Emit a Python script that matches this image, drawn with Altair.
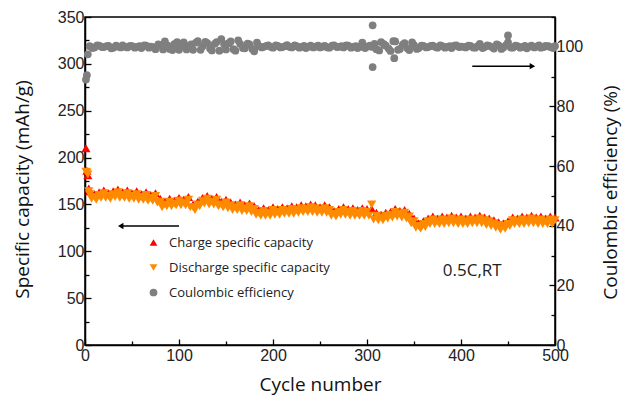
import altair as alt
import pandas as pd

S_CH = "Charge specific capacity"
S_DIS = "Discharge specific capacity"
S_CE = "Coulombic efficiency"

cap_cycles = [1, 2, 3, 4] + list(range(5, 501, 5))
charge = [210, 186, 181, 167] + [
    164, 161, 163, 165, 162, 164, 166, 163, 165, 162,
    164, 161, 163, 160, 162, 156, 153, 156, 154, 157,
    155, 158, 150, 153, 157, 159, 156, 158, 153, 155,
    152, 150, 152, 149, 151, 148, 144, 146, 144, 147,
    145, 147, 146, 148, 147, 149, 148, 150, 149, 147,
    149, 147, 143, 145, 147, 145, 146, 144, 146, 145,
    145, 141, 139, 141, 142, 145, 143, 144, 140, 135,
    130, 132, 135, 137, 135, 137, 136, 138, 136, 137,
    135, 137, 136, 138, 136, 135, 133, 131, 130, 132,
    136, 135, 137, 136, 138, 136, 137, 135, 137, 136]
discharge = [185, 184, 182, 164] + [
    161, 158, 160, 162, 159, 161, 163, 160, 162, 159,
    161, 158, 160, 157, 159, 153, 150, 153, 151, 154,
    152, 155, 147, 150, 154, 156, 153, 155, 150, 152,
    149, 147, 149, 146, 148, 145, 141, 143, 141, 144,
    142, 144, 143, 145, 144, 146, 145, 147, 146, 144,
    146, 144, 140, 142, 144, 142, 143, 141, 143, 142,
    150, 138, 136, 138, 139, 142, 140, 141, 137, 132,
    127, 129, 132, 134, 132, 134, 133, 135, 133, 134,
    132, 134, 133, 135, 133, 132, 130, 128, 127, 129,
    133, 132, 134, 133, 135, 133, 134, 132, 134, 133]

# lower side of the scattered discharge band (cycles 7, 12, ..., 497)
dis_lo_cycles = list(range(7, 498, 5))
discharge_lo = [
    156, 155, 157, 157, 156, 158, 157, 157, 156, 156,
    155, 155, 154, 154, 152, 147, 148, 148, 149, 149,
    149, 147, 144, 148, 151, 150, 150, 148, 147, 146,
    144, 144, 143, 143, 142, 139, 138, 138, 138, 139,
    139, 140, 140, 140, 141, 142, 142, 142, 141, 141,
    141, 138, 137, 139, 139, 138, 138, 138, 138, 138,
    134, 133, 133, 135, 136, 137, 136, 135, 130, 125,
    124, 126, 129, 129, 129, 129, 130, 130, 129, 129,
    129, 130, 130, 130, 128, 127, 125, 123, 124, 127,
    129, 129, 129, 130, 130, 129, 129, 129, 129]

ce_cycles = [1, 2, 3] + list(range(5, 501, 5)) + [306, 306, 329, 450]
ce = [89.0, 90.5, 97.5] + [
    100.2, 99.8, 100.4, 99.9, 100.3, 99.7, 100.1, 100.5, 99.8, 100.2,
    100.0, 99.6, 100.4, 100.1, 99.2, 100.6, 101.8, 99.3, 100.9, 99.0,
    101.5, 100.3, 99.0, 101.9, 100.2, 101.2, 98.8, 101.6, 102.6, 99.1,
    101.8, 98.7, 101.0, 99.5, 100.8, 98.5, 100.2, 100.0, 100.5, 99.7,
    100.3, 99.9, 100.6, 99.8, 100.2, 100.0, 99.6, 100.4, 100.1, 99.8,
    100.3, 99.7, 100.5, 100.0, 99.8, 100.4, 100.0, 99.6, 101.4, 100.1,
    100.0, 99.2, 101.6, 100.4, 98.6, 101.8, 99.3, 101.2, 98.9, 100.6,
    99.6, 100.3, 99.9, 100.4, 99.7, 100.2, 100.0, 99.6, 100.5, 100.1,
    99.8, 100.3, 99.7, 101.0, 99.9, 100.3, 99.4, 100.5, 99.8, 101.5,
    99.7, 100.2, 100.0, 99.5, 100.4, 100.1, 99.7, 100.3, 99.9, 100.2] + [107.2, 93.2, 96.2, 103.8]

# in-between coulombic efficiency points (cycles 8, 13, ..., 498)
ce_b_cycles = list(range(8, 499, 5))
ce_b = [
    99.6, 100.5, 99.9, 100.2, 99.5, 100.4, 99.8, 100.0, 100.3, 99.7,
    100.2, 100.5, 99.7, 99.9, 100.8, 99.1, 100.4, 98.9, 101.6, 100.3,
    99.1, 100.8, 101.4, 99.0, 101.7, 99.4, 101.0, 98.7, 100.9, 101.2,
    99.2, 102.2, 99.6, 101.1, 99.3, 101.4, 99.8, 100.3, 99.9, 100.5,
    99.8, 100.2, 99.9, 100.5, 99.7, 100.3, 100.0, 99.8, 100.4, 100.1,
    99.8, 100.4, 99.9, 100.2, 100.5, 99.7, 100.2, 100.0, 99.6, 100.4,
    101.0, 98.8, 100.9, 99.4, 101.9, 99.0, 100.7, 99.5, 101.5, 99.3,
    100.4, 99.8, 100.3, 99.9, 100.5, 99.7, 100.2, 100.4, 99.9, 100.0,
    100.4, 99.8, 100.2, 99.6, 100.5, 99.9, 100.8, 99.3, 100.6, 99.8,
    100.4, 99.7, 100.3, 100.1, 99.8, 100.5, 99.9, 100.2, 99.6]

# annotations (data space)
note_text = ["0.5C,RT"]
note_x = [412]
note_y = [79]
left_arrow_x = [38, 100]
left_arrow_y = 127
right_arrow_x = [412, 476]
right_arrow_y = 93.5

n = len(cap_cycles)
cap_df = pd.DataFrame({
    "cycle": cap_cycles + cap_cycles + dis_lo_cycles,
    "value": charge + discharge + discharge_lo,
    "series": [S_CH] * n + [S_DIS] * (n + len(discharge_lo)),
})
ce_df = pd.DataFrame({"cycle": ce_cycles + ce_b_cycles, "value": ce + ce_b,
                      "series": [S_CE] * (len(ce) + len(ce_b))})

FONT_T = "Open Sans"
FONT_L = "Liberation Sans"

xscale = alt.Scale(domain=[0, 500], nice=False)
ycap = alt.Scale(domain=[0, 350], nice=False)
yce = alt.Scale(domain=[0, 110], nice=False)

color = alt.Color("series:N", scale=alt.Scale(domain=[S_CH, S_DIS, S_CE], range=["#ff0000", "#ff8a00", "#7f7f7f"]),
                  legend=alt.Legend(title=None, orient="none", legendX=62, legendY=219, labelFont=FONT_T,
                                    labelFontSize=13, labelColor="#222", symbolSize=60, labelOffset=9,
                                    rowPadding=11, padding=0, symbolStrokeWidth=0, labelLimit=0))
shape = alt.Shape("series:N", scale=alt.Scale(domain=[S_CH, S_DIS, S_CE], range=["triangle-up", "triangle-down", "circle"]))

xaxis = alt.Axis(values=list(range(0, 501, 50)), labelExpr="datum.value % 100 === 0 ? datum.label : ''",
                 tickSize={"condition": {"test": "datum.value % 100 === 0", "value": -6}, "value": -4},
                 labelPadding=8, title="Cycle number", titleX=235, titleY=39, titleBaseline="middle",
                 titleAlign="center")

cap_layer = alt.Chart(cap_df).mark_point(filled=True, opacity=1, size=85).encode(
    x=alt.X("cycle:Q", scale=xscale, axis=xaxis),
    y=alt.Y("value:Q", scale=ycap, axis=alt.Axis(
        values=list(range(0, 351, 25)), labelExpr="datum.value % 50 === 0 ? datum.label : ''",
        tickSize={"condition": {"test": "datum.value % 50 === 0", "value": -6}, "value": -4},
        labelPadding=7, title="Specific capacity (mAh/g)", titleX=-63, titleY=172,
        titleBaseline="middle", titleAlign="center")),
    color=color, shape=shape,
)

ce_layer = alt.Chart(ce_df).mark_point(filled=True, opacity=1, size=60).encode(
    x=alt.X("cycle:Q", scale=xscale),
    y=alt.Y("value:Q", scale=yce, axis=alt.Axis(
        orient="right", values=list(range(0, 111, 10)),
        labelExpr="datum.value % 20 === 0 && datum.value <= 100 ? datum.label : ''",
        tickSize={"condition": {"test": "datum.value % 20 === 0", "value": -6}, "value": -4},
        labelPadding=7, title="Coulombic efficiency (%)", titleAngle=270, titleX=55, titleY=175,
        titleBaseline="middle", titleAlign="center")),
    color=color, shape=shape,
)

note_df = pd.DataFrame({"x": note_x, "y": note_y, "t": note_text})
note = alt.Chart(note_df).mark_text(font=FONT_T, fontSize=17, color="#222").encode(
    x=alt.X("x:Q", scale=xscale), y=alt.Y("y:Q", scale=ycap, axis=None), text="t:N")

la_df = pd.DataFrame({"x": [left_arrow_x[0]], "x2": [left_arrow_x[1]], "y": [left_arrow_y]})
la_line = alt.Chart(la_df).mark_rule(color="black", strokeWidth=1.5).encode(
    x=alt.X("x:Q", scale=xscale), x2="x2:Q", y=alt.Y("y:Q", scale=ycap, axis=None))
la_head = alt.Chart(la_df).mark_point(shape="triangle-left", filled=True, color="black", size=40, opacity=1).encode(
    x=alt.X("x:Q", scale=xscale), y=alt.Y("y:Q", scale=ycap, axis=None))

ra_df = pd.DataFrame({"x": [right_arrow_x[0]], "x2": [right_arrow_x[1]], "y": [right_arrow_y]})
ra_line = alt.Chart(ra_df).mark_rule(color="black", strokeWidth=1.5).encode(
    x=alt.X("x:Q", scale=xscale), x2="x2:Q", y=alt.Y("y:Q", scale=yce, axis=None))
ra_head = alt.Chart(ra_df).mark_point(shape="triangle-right", filled=True, color="black", size=40, opacity=1).encode(
    x=alt.X("x2:Q", scale=xscale), y=alt.Y("y:Q", scale=yce, axis=None))

chart = alt.layer(cap_layer, ce_layer, note, la_line, la_head, ra_line, ra_head).resolve_scale(
    y="independent"
).properties(
    width=470, height=328, autosize="none",
    padding={"left": 85, "top": 17, "right": 75, "bottom": 58},
).configure_view(stroke="black", strokeWidth=1.5).configure_axis(
    grid=False, domainColor="black", domainWidth=1.5, tickColor="black", tickWidth=1.3,
    labelFont=FONT_L, labelFontSize=16, labelColor="#222", titleFont=FONT_T, titleFontSize=19,
    titleFontWeight="normal", titleColor="#111", labelFlush=False,
)

chart.save("out.html", embed_options={"renderer": "svg", "actions": False})
